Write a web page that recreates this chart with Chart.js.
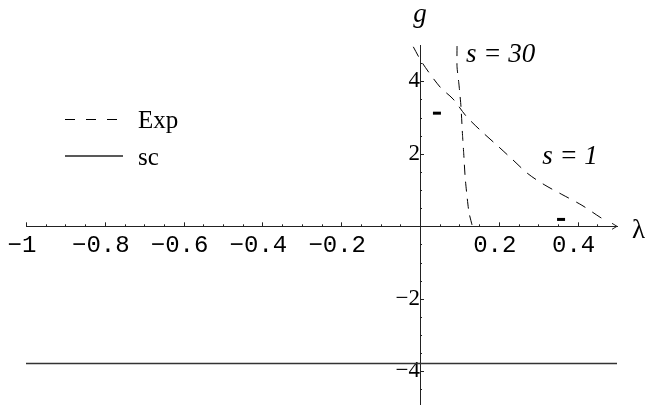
<!DOCTYPE html>
<html>
<head>
<meta charset="utf-8">
<script src="https://cdn.jsdelivr.net/npm/chart.js@4.4.1/dist/chart.umd.min.js"></script>
<style>
  html, body { margin: 0; background: #fff; overflow: hidden; }
  /* a few px taller than the window: Chart.js keeps a small strip under the
     chart area, and the g axis has to run off the bottom edge */
  #wrap { width: 645px; height: 411px; position: relative; }
</style>
</head>
<body>
<div id="wrap"><canvas id="myChart"></canvas></div>
<script>
// curves (lambda, g)
const expS1 = [[-0.017, 4.95], [0.005, 4.52], [0.051, 3.84], [0.084, 3.51], [0.117, 3.04],
  [0.155, 2.63], [0.2, 2.19], [0.233, 1.86], [0.274, 1.45], [0.315, 1.15], [0.36, 0.88],
  [0.411, 0.58], [0.457, 0.25], [0.47, 0.17]];
const expS30 = [[0.094, 4.97], [0.094, 4.4], [0.099, 3.9], [0.104, 3.3], [0.108, 2.5],
  [0.111, 2.0], [0.115, 1.3], [0.124, 0.4], [0.132, 0.04]];
const scLine = [[-1, -3.78], [0.5, -3.78]];
const strayMarks = [[0.043, 3.12], [0.358, 0.19]];

const xTicks = [-1, -0.8, -0.6, -0.4, -0.2, 0.2, 0.4];
const yTicks = [-4, -2, 2, 4];
const legendLabels = ['Exp', 'sc'];
const curveLabels = ['s = 30', 's = 1'];

const toXY = arr => arr.map(p => ({x: p[0], y: p[1]}));

// ticks, arrow, legend and curve labels
const axisDecor = {
  id: 'axisDecor',
  afterDraw(chart) {
    const {ctx, scales: {x, y}} = chart;
    const x0 = x.getPixelForValue(0);
    const y0 = y.getPixelForValue(0);
    ctx.save();
    ctx.strokeStyle = '#222';
    ctx.lineWidth = 1;
    ctx.beginPath();
    // x ticks every 0.05, pointing up
    for (let i = -20; i < 10; i++) {
      if (i === 0) continue;
      const px = Math.round(x.getPixelForValue(i * 0.05)) + 0.5;
      const len = i % 4 === 0 ? 4 : 2;
      ctx.moveTo(px, y0);
      ctx.lineTo(px, y0 - len);
    }
    // y ticks every 0.5, pointing right
    for (let j = -9; j <= 9; j++) {
      if (j === 0) continue;
      const py = Math.round(y.getPixelForValue(j * 0.5)) + 0.5;
      const len = j % 4 === 0 ? 4 : 2;
      ctx.moveTo(x0, py);
      ctx.lineTo(x0 + len, py);
    }
    // arrow head
    const xe = x.getPixelForValue(0.5);
    ctx.moveTo(xe - 5, y0 - 3);
    ctx.lineTo(xe, y0);
    ctx.lineTo(xe - 5, y0 + 3);
    ctx.stroke();

    // legend
    ctx.strokeStyle = '#000';
    ctx.beginPath();
    ctx.setLineDash([10, 11]);
    ctx.moveTo(65, 119.5);
    ctx.lineTo(118, 119.5);
    ctx.stroke();
    ctx.setLineDash([]);
    ctx.strokeStyle = '#222';
    ctx.lineWidth = 1.5;
    ctx.beginPath();
    ctx.moveTo(65, 156);
    ctx.lineTo(123, 156);
    ctx.stroke();

    ctx.fillStyle = '#000';
    ctx.textAlign = 'left';
    ctx.textBaseline = 'alphabetic';
    ctx.font = '25px "Liberation Serif"';
    ctx.fillText(legendLabels[0], 138, 128);
    ctx.fillText(legendLabels[1], 138, 165);

    // curve labels
    ctx.font = 'italic 27px "Liberation Serif"';
    ctx.fillText(curveLabels[0], x.getPixelForValue(0.117), y.getPixelForValue(4.53));
    ctx.fillText(curveLabels[1], x.getPixelForValue(0.31), y.getPixelForValue(1.71));

    // axis names
    ctx.textAlign = 'center';
    ctx.font = 'italic 27px "Liberation Serif"';
    ctx.fillText('g', x0, 22);
    ctx.textAlign = 'left';
    ctx.font = '27px "Liberation Serif"';
    ctx.fillText('λ', xe + 15, y0 + 12);
    ctx.restore();
  }
};

const fmt = v => {
  const s = String(Math.round(v * 10) / 10);
  return s.replace('-', '\u2212');
};

// axes cross at the origin; keep Chart.js from reserving space for end labels
const noPad = axis => {
  axis.paddingTop = 0;
  axis.paddingBottom = 0;
};

const ctx = document.getElementById('myChart');
new Chart(ctx, {
  type: 'scatter',
  data: {
    datasets: [
      {
        label: 'Exp s=1',
        data: toXY(expS1),
        showLine: true,
        borderColor: '#000',
        borderWidth: 1,
        borderDash: [11, 8],
        tension: 0.3,
        pointRadius: 0,
        fill: false
      },
      {
        label: 'Exp s=30',
        data: toXY(expS30),
        showLine: true,
        borderColor: '#000',
        borderWidth: 1,
        borderDash: [10, 7],
        tension: 0.2,
        pointRadius: 0,
        fill: false
      },
      {
        label: 'sc',
        data: toXY(scLine),
        showLine: true,
        borderColor: '#333',
        borderWidth: 1.5,
        pointRadius: 0,
        fill: false
      },
      {
        label: 'marks',
        data: toXY(strayMarks),
        showLine: false,
        pointStyle: 'line',
        pointRadius: 4,
        pointBorderWidth: 3,
        borderColor: '#000'
      }
    ]
  },
  options: {
    responsive: true,
    maintainAspectRatio: false,
    animation: false,
    layout: {
      padding: {top: 45, left: 26, right: 28, bottom: 0}
    },
    plugins: {
      legend: {display: false},
      tooltip: {enabled: false}
    },
    scales: {
      x: {
        type: 'linear',
        min: -1,
        max: 0.5,
        position: {y: 0},
        grid: {display: false},
        border: {display: true, color: '#222', width: 1},
        afterBuildTicks: axis => { axis.ticks = xTicks.map(v => ({value: v})); },
        ticks: {
          autoSkip: false,
          maxRotation: 0,
          padding: -3,
          labelOffset: -4,
          color: '#000',
          font: {family: 'Liberation Mono', size: 24},
          callback: v => fmt(v)
        }
      },
      y: {
        type: 'linear',
        min: -4.9,
        max: 5,
        position: {x: 0},
        grid: {display: false},
        border: {display: true, color: '#222', width: 1},
        afterBuildTicks: axis => { axis.ticks = yTicks.map(v => ({value: v})); },
        afterFit: noPad,
        ticks: {
          autoSkip: false,
          padding: 12,
          color: '#000',
          font: {family: 'Liberation Serif', size: 23},
          callback: v => fmt(v)
        }
      }
    }
  },
  plugins: [axisDecor]
});
</script>
</body>
</html>
